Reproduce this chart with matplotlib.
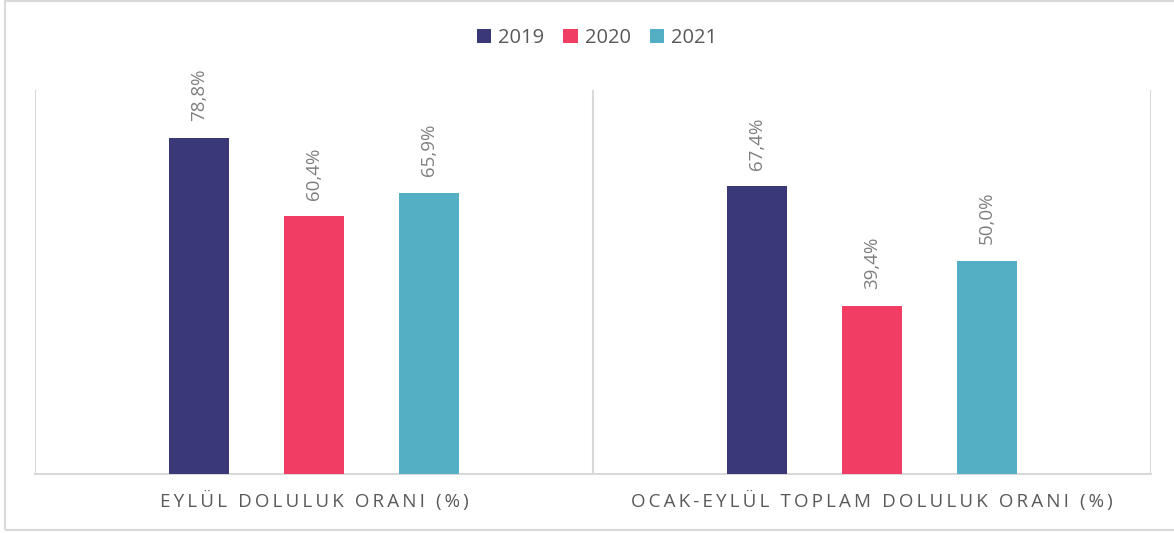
import numpy as np
import matplotlib.pyplot as plt
from matplotlib.patches import Rectangle

# chart values
categories = ['EYLÜL DOLULUK ORANI (%)', 'OCAK-EYLÜL TOPLAM DOLULUK ORANI (%)']
years = ['2019', '2020', '2021']
values = {
    '2019': [78.8, 67.4],
    '2020': [60.4, 39.4],
    '2021': [65.9, 50.0],
}
colors = ['#3b3877', '#f13c63', '#55afc4']

plt.rcParams['font.family'] = ['Open Sans', 'DejaVu Sans']


def spaced(s, sep='\u2009'):
    # fake letter tracking for the category labels
    return sep.join(list(s))


fig = plt.figure(figsize=(11.74, 5.33), dpi=100)
ax = fig.add_axes([35 / 1174, 1 - 474 / 533, (1151 - 35) / 1174, (474 - 90) / 533])

x = np.arange(len(categories))
width = 0.1075
pitch = 0.206

for i, year in enumerate(years):
    offs = (i - 1) * pitch
    bars = ax.bar(x + offs, values[year], width=width, color=colors[i], label=year, zorder=3)
    for rect, v in zip(bars, values[year]):
        ax.text(rect.get_x() + rect.get_width() / 2, v + 3.9,
                f'{v:.1f}%'.replace('.', ','), rotation=90, ha='center', va='bottom',
                color='#7f7f7f', fontsize=13.5)

ax.set_xlim(-0.5, len(categories) - 0.5)
ax.set_ylim(0, 90)
ax.set_yticks([])
ax.set_xticks(x)
ax.set_xticklabels([spaced(c) for c in categories], fontsize=13.5, color='#595959')
ax.tick_params(axis='x', length=0, pad=12)

for sp in ['top', 'right', 'left']:
    ax.spines[sp].set_visible(False)
ax.spines['bottom'].set_color('#d9d9d9')
ax.spines['bottom'].set_linewidth(1.5)

for xv in np.arange(-0.5, len(categories), 1.0):
    ax.axvline(xv, color='#d9d9d9', linewidth=1.5, zorder=1)

fig.legend(loc='center', bbox_to_anchor=(597 / 1174, 1 - 38 / 533), ncol=3, frameon=False,
           fontsize=14.5, handlelength=0.7, handleheight=0.7, handletextpad=0.35,
           columnspacing=0.95, labelcolor='#595959')

# outer chart border
fig.patches.append(Rectangle((5 / 1174, 3 / 533), 1.5, 1 - 4 / 533, transform=fig.transFigure,
                             fill=False, edgecolor='#d9d9d9', linewidth=1.5))

fig.savefig('out.png', dpi=100)
